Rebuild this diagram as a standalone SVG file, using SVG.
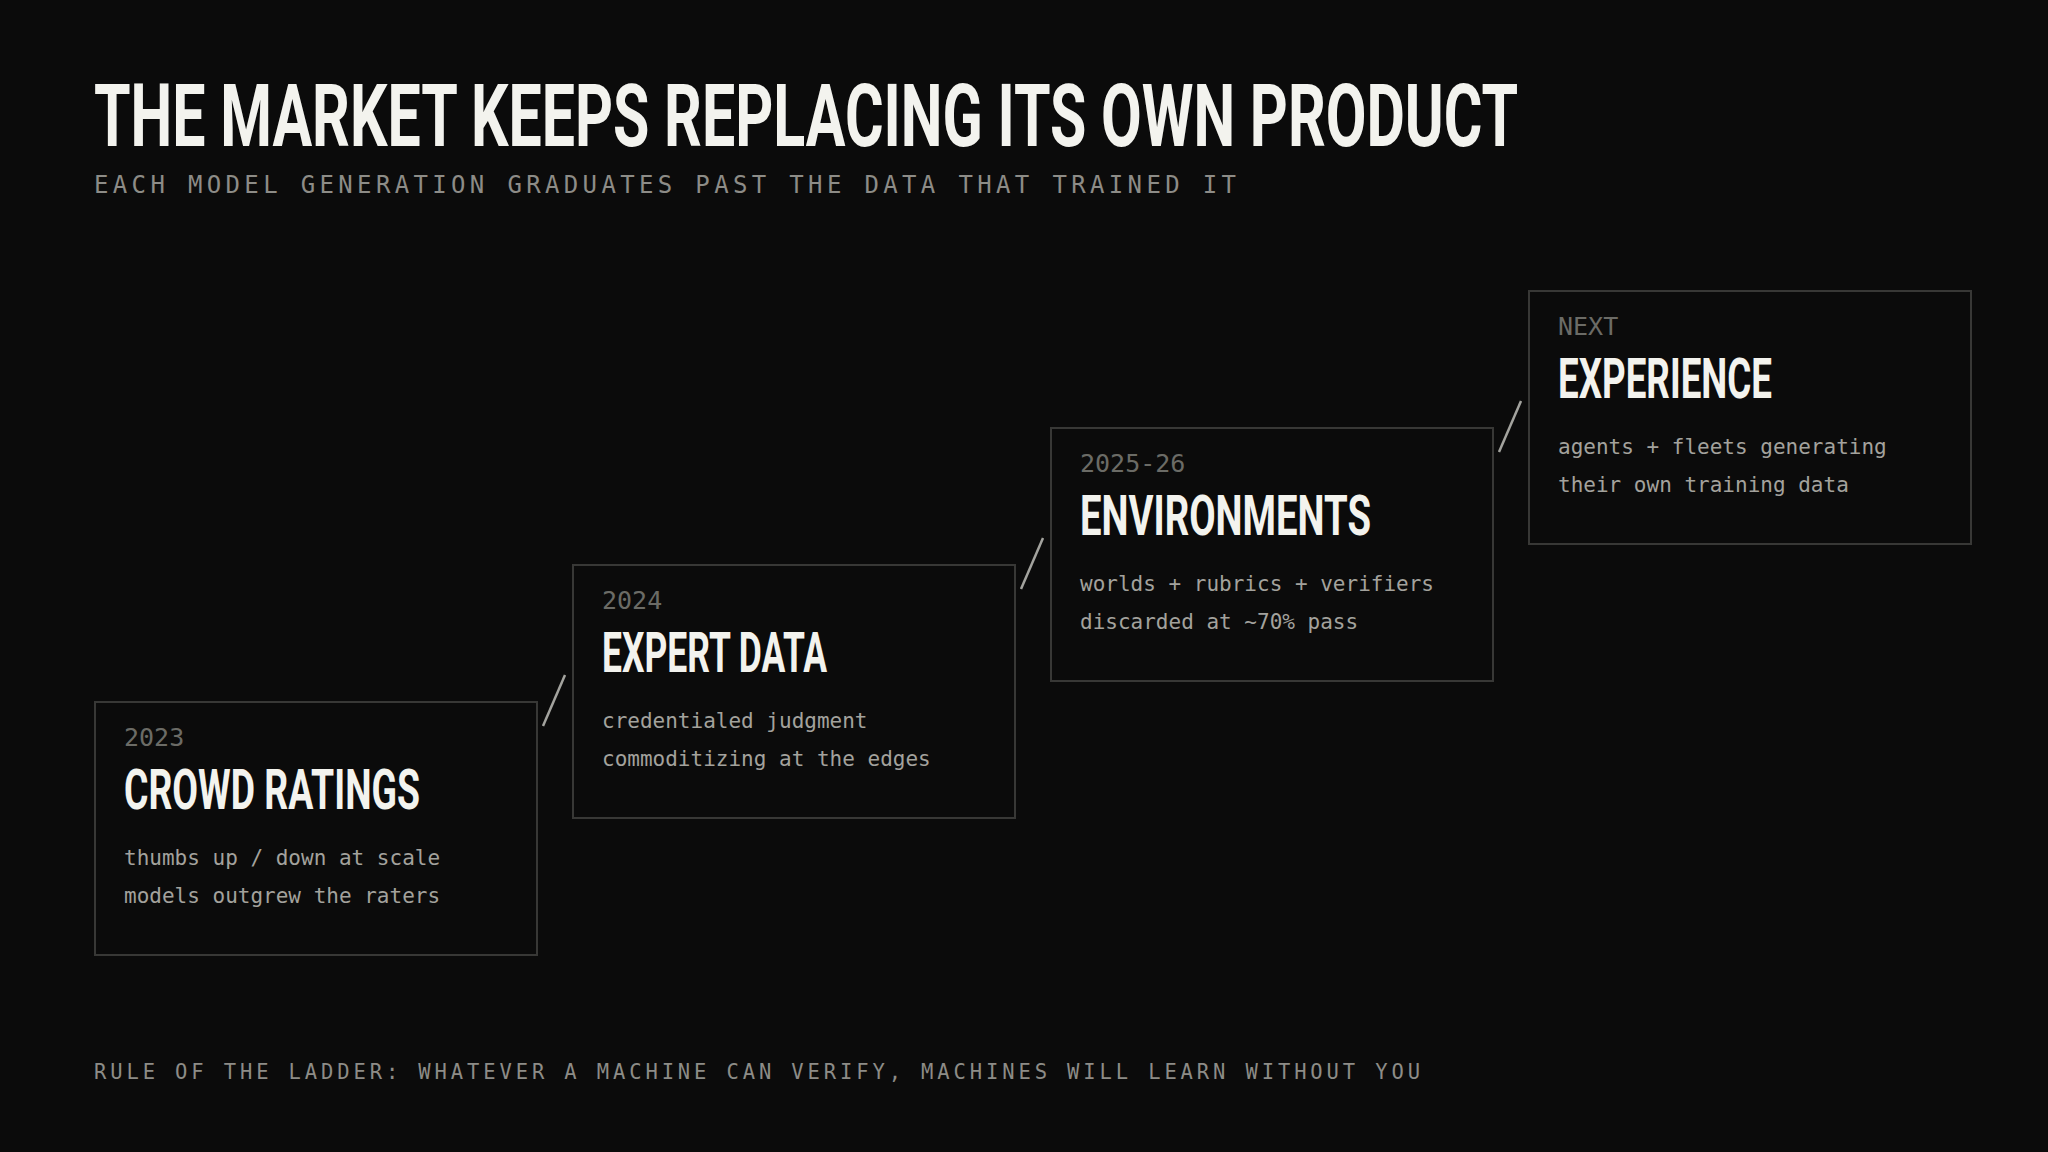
<svg xmlns="http://www.w3.org/2000/svg" width="2048" height="1152" viewBox="0 0 2048 1152">
<style>
.bg{fill:#0b0b0b}
.box{fill:#0b0b0b;stroke:#383836;stroke-width:2}
.title{font-family:Roboto,"Liberation Sans",sans-serif;font-weight:700;fill:#f3f3ee}
.mono{font-family:"DejaVu Sans Mono","Liberation Mono",monospace}
.year{font-size:25px;fill:#6b6b66}
.body{font-size:21px;fill:#a3a29d}
.sub{font-size:24px;fill:#8d8c87}
.foot{font-size:20.5px;fill:#8d8c87}
.conn line{stroke:#a3a39e;stroke-width:2.5;stroke-linecap:butt}
</style>
<rect class="bg" x="0" y="0" width="2048" height="1152"/>
<text class="title" transform="translate(94,146) scale(0.72,1)" x="0" y="0" font-size="88" textLength="1978" lengthAdjust="spacingAndGlyphs">THE MARKET KEEPS REPLACING ITS OWN PRODUCT</text>
<text class="mono sub" x="94" y="192.5" textLength="1142" lengthAdjust="spacing">EACH MODEL GENERATION GRADUATES PAST THE DATA THAT TRAINED IT</text>
<g id="node-crowd">
<rect class="box" x="95" y="702" width="442" height="253"/>
<text class="mono year" x="124" y="746">2023</text>
<text class="title" x="124" y="809" font-size="55" textLength="296" lengthAdjust="spacingAndGlyphs">CROWD RATINGS</text>
<text class="mono body" x="124" y="865">thumbs up / down at scale</text>
<text class="mono body" x="124" y="903">models outgrew the raters</text>
</g>
<g id="node-expert">
<rect class="box" x="573" y="565" width="442" height="253"/>
<text class="mono year" x="602" y="609">2024</text>
<text class="title" x="602" y="672" font-size="55" textLength="225" lengthAdjust="spacingAndGlyphs">EXPERT DATA</text>
<text class="mono body" x="602" y="728">credentialed judgment</text>
<text class="mono body" x="602" y="766">commoditizing at the edges</text>
</g>
<g id="node-env">
<rect class="box" x="1051" y="428" width="442" height="253"/>
<text class="mono year" x="1080" y="472">2025-26</text>
<text class="title" x="1080" y="535" font-size="55" textLength="291" lengthAdjust="spacingAndGlyphs">ENVIRONMENTS</text>
<text class="mono body" x="1080" y="591">worlds + rubrics + verifiers</text>
<text class="mono body" x="1080" y="629">discarded at ~70% pass</text>
</g>
<g id="node-exp">
<rect class="box" x="1529" y="291" width="442" height="253"/>
<text class="mono year" x="1558" y="335">NEXT</text>
<text class="title" x="1558" y="398" font-size="55" textLength="214" lengthAdjust="spacingAndGlyphs">EXPERIENCE</text>
<text class="mono body" x="1558" y="454">agents + fleets generating</text>
<text class="mono body" x="1558" y="492">their own training data</text>
</g>
<g id="connectors" class="conn">
<line x1="543" y1="726" x2="565" y2="675"/>
<line x1="1021" y1="589" x2="1043" y2="538"/>
<line x1="1499" y1="452" x2="1521" y2="401"/>
</g>
<text class="mono foot" x="94" y="1079" textLength="1326" lengthAdjust="spacing">RULE OF THE LADDER: WHATEVER A MACHINE CAN VERIFY, MACHINES WILL LEARN WITHOUT YOU</text>
</svg>
